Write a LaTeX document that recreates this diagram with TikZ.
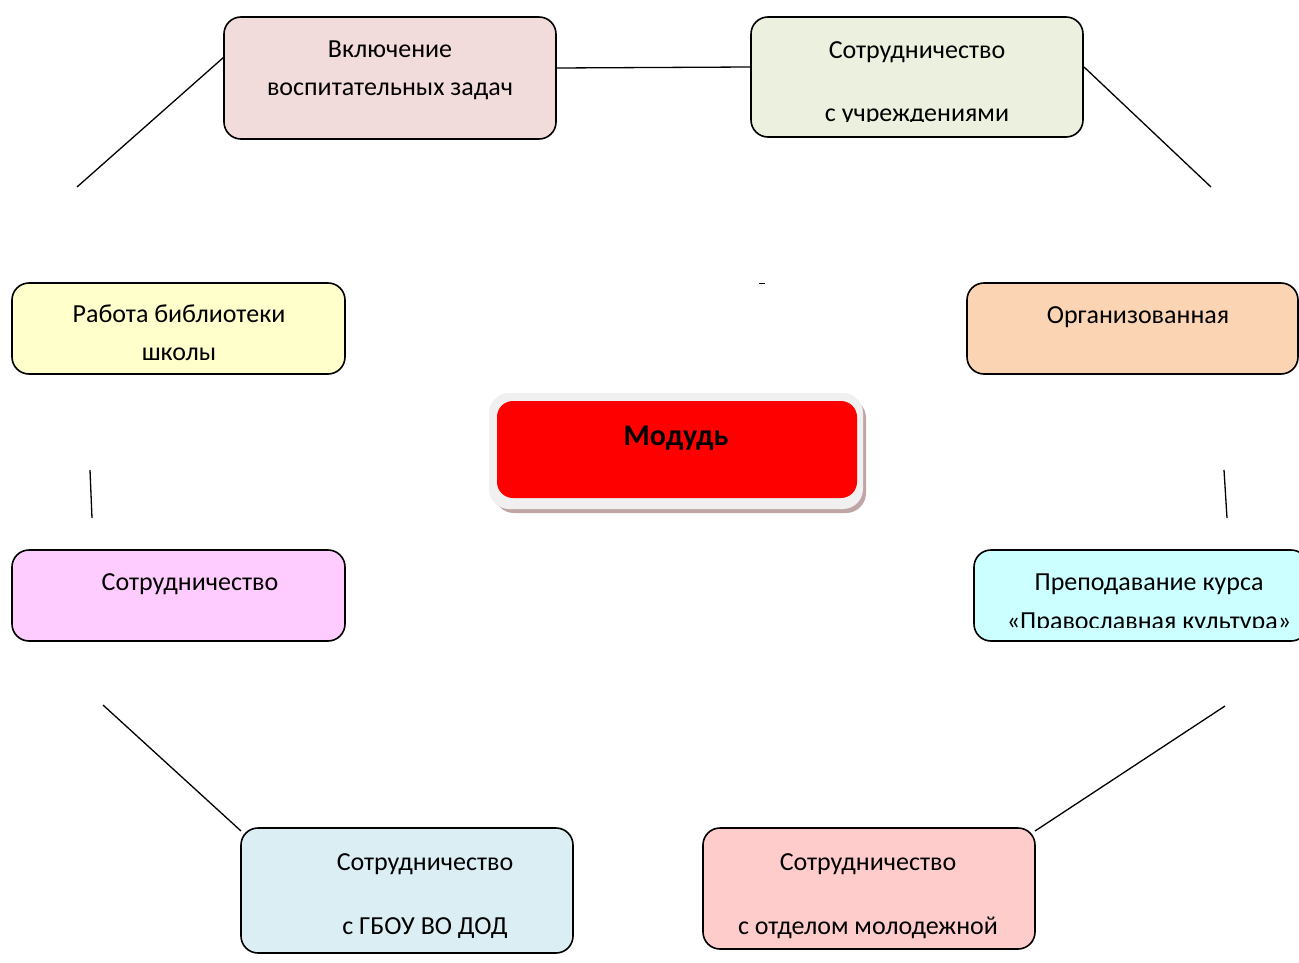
\documentclass[tikz,border=0pt]{standalone}
\usepackage{fontspec}
\setmainfont{Carlito}
\usetikzlibrary{calc}
\definecolor{cpinkA}{HTML}{F2DCDB}
\definecolor{cgreen}{HTML}{EBF1DE}
\definecolor{cyellow}{HTML}{FFFFCC}
\definecolor{corange}{HTML}{FBD4B4}
\definecolor{cmag}{HTML}{FFCCFF}
\definecolor{ccyan}{HTML}{CCFFFF}
\definecolor{cblue}{HTML}{DBEEF3}
\definecolor{csalmon}{HTML}{FFCCCC}
\definecolor{cshadow}{HTML}{BFA5A5}
\definecolor{cring}{HTML}{F0F0F0}
\tikzset{
  box/.style={draw=black, line width=1.6pt, rounded corners=17pt, inner sep=0pt},
  lbl/.style={inner sep=0pt, font=\fontsize{26}{30}\selectfont, anchor=base},
  conn/.style={draw=black, line width=1.3pt}
}
\begin{document}
\begin{tikzpicture}[x=1pt,y=-1pt]
\useasboundingbox (0,0) rectangle (1299,963);
% boxes
\node[box, fill=cpinkA, minimum width=332pt, minimum height=122pt] (b1) at (390,78) {};
\node[box, fill=cgreen, minimum width=332pt, minimum height=120pt] (b2) at (917,77) {};
\node[box, fill=cyellow, minimum width=333pt, minimum height=91pt] (b3) at (178.5,328.5) {};
\node[box, fill=corange, minimum width=331pt, minimum height=91pt] (b4) at (1132.5,328.5) {};
\node[box, fill=cmag, minimum width=333pt, minimum height=91pt] (b5) at (178.5,595.5) {};
\node[box, fill=ccyan, minimum width=334pt, minimum height=91pt] (b6) at (1141,595.5) {};
\node[box, fill=cblue, minimum width=332pt, minimum height=125pt] (b7) at (407,890.5) {};
\node[box, fill=csalmon, minimum width=332pt, minimum height=121pt] (b8) at (869,888.5) {};
% center
\fill[cshadow, rounded corners=20pt] (494,398) rectangle (866,513);
\node[fill=cring, rounded corners=20pt, minimum width=374pt, minimum height=116pt, inner sep=0pt] (cring) at (676,451) {};
\node[fill=red, rounded corners=16pt, minimum width=360pt, minimum height=97pt, inner sep=0pt] (cen) at (677,449.5) {};
\node[inner sep=0pt, anchor=base, font=\fontsize{30}{34}\selectfont\bfseries] (tcen) at (676,445) {Модудь};
% labels
\node[lbl] (t1a) at (390,58) {Включение};
\node[lbl] (t1b) at (390,96) {воспитательных задач};
\node[lbl] (t2a) at (917,59) {Сотрудничество};
\begin{scope}
\clip (751,0) rectangle (1083,121.5);
\node[lbl] (t2b) at (917,122) {с учреждениями};
\end{scope}
\node[lbl] (t3a) at (179,322) {Работа библиотеки};
\node[lbl] (t3b) at (179,360) {школы};
\node[lbl] (t4a) at (1138,323) {Организованная};
\node[lbl] (t5a) at (190,590) {Сотрудничество};
\node[lbl] (t6a) at (1149,590) {Преподавание курса};
\begin{scope}
\clip (974,600) rectangle (1299,627.5);
\node[lbl] (t6b) at (1149,629) {«Православная культура»};
\end{scope}
\node[lbl] (t7a) at (425,870) {Сотрудничество};
\node[lbl] (t7b) at (425,934) {с ГБОУ ВО ДОД};
\node[lbl] (t8a) at (868,870) {Сотрудничество};
\node[lbl] (t8b) at (868,934) {с отделом молодежной};
% connector coordinates
\coordinate (p1) at (224,57);
\coordinate (q1) at (77,187);
\coordinate (p2) at (1084,67);
\coordinate (q2) at (1211,187);
\coordinate (l1) at (90,470);
\coordinate (l2) at (92,518);
\coordinate (r1) at (1224,470);
\coordinate (r2) at (1227,518);
\coordinate (ll1) at (103,705);
\coordinate (ll2) at (241,831);
\coordinate (lr1) at (1225,706);
\coordinate (lr2) at (1035,831);
\coordinate (d1) at (759,283.5);
\coordinate (d2) at (765,283.5);
% connectors
\draw[conn] (p1) -- (q1);
\draw[conn] (b1.east |- 0,68) -- (b2.west |- 0,67);
\draw[conn] (p2) -- (q2);
\draw[conn] (l1) -- (l2);
\draw[conn] (r1) -- (r2);
\draw[conn] (ll1) -- (ll2);
\draw[conn] (lr1) -- (lr2);
\draw[conn, line width=1.5pt] (d1) -- (d2);
\end{tikzpicture}
\end{document}
